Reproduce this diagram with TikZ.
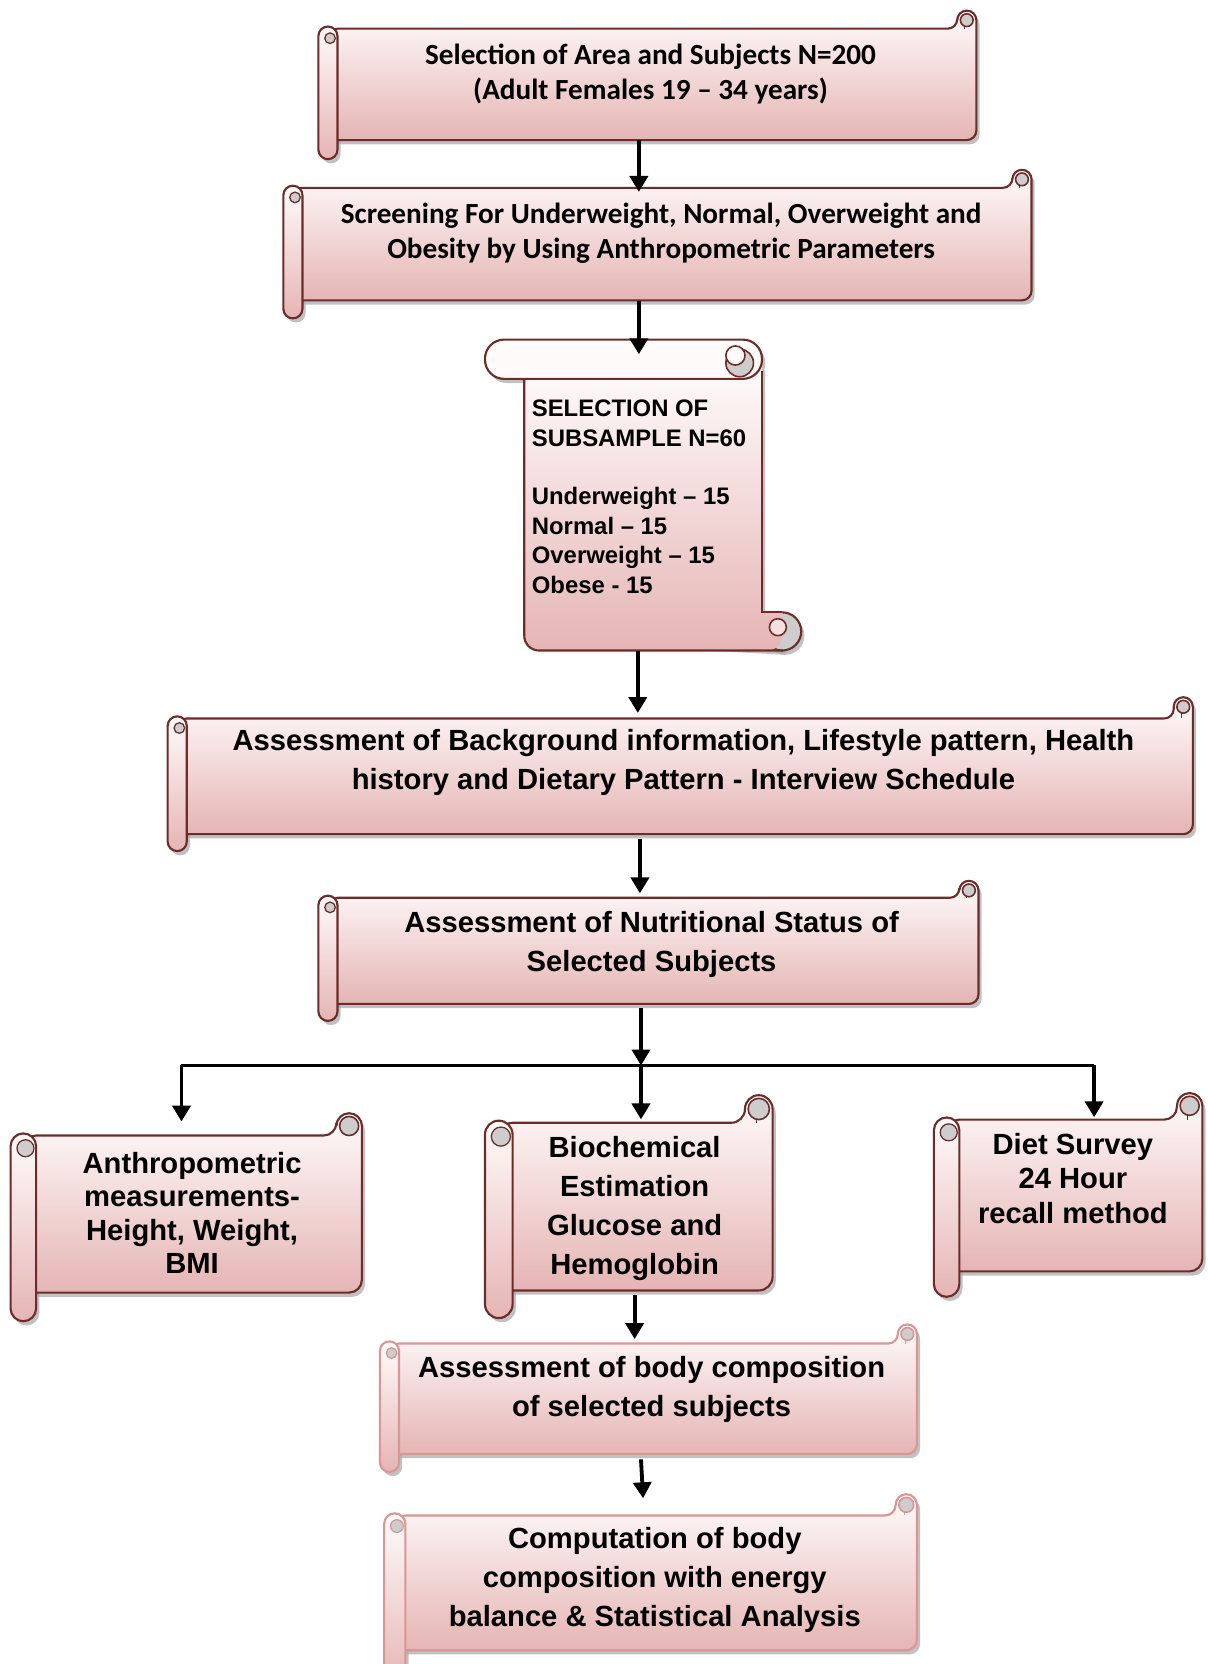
\documentclass[tikz,border=0pt]{standalone}
\usepackage{fontspec}
\setmainfont{Liberation Sans}
\newfontfamily\calfont{Carlito}
\usetikzlibrary{arrows.meta,calc}
\definecolor{outl}{HTML}{6B2C2A}
\definecolor{outlb}{HTML}{D99694}
\definecolor{stop}{HTML}{FFFBFB}
\definecolor{sbot}{HTML}{E5B5B4}
\definecolor{cgray}{HTML}{CDCDCD}
\definecolor{shad}{HTML}{A8A8A8}
\tikzset{
  scrollfill/.style={top color=stop, bottom color=sbot, line width=2pt},
  shadowc/.style={fill=shad, opacity=0.7},
  arr/.style={line width=3.6pt, -{Triangle[width=17pt,length=15pt]}},
  conn/.style={line width=3.2pt},
  lbl/.style={font=\bfseries\fontsize{27.5}{37}\selectfont, align=center, inner sep=0pt},
  bodynode/.style={inner sep=0pt, draw=none}
}
% #1 name, #2 L, #3 T, #4 R, #5 B, #6 curl top, #7 roll bottom, #8 roll width, #9 outline colour
\newcommand\hscroll[9]{%
  \pgfmathsetmacro\qL{#2}\pgfmathsetmacro\qT{#3}\pgfmathsetmacro\qR{#4}\pgfmathsetmacro\qB{#5}%
  \pgfmathsetmacro\qC{#6}\pgfmathsetmacro\qD{#7}\pgfmathsetmacro\qw{#8}\pgfmathsetmacro\qh{#8/2}%
  \pgfmathsetmacro\qLh{#2+#8/2}\pgfmathsetmacro\qLw{#2+#8}%
  \pgfmathsetmacro\qRw{#4-#8}\pgfmathsetmacro\qRh{#4-#8/2}%
  \pgfmathsetmacro\qW{#4-#2}\pgfmathsetmacro\qH{#5-#3}%
  \pgfmathsetmacro\qX{(#2+#4)/2}\pgfmathsetmacro\qY{(#3+#5)/2}%
  \begin{scope}[shift={(3,4)}]
    \fill[shadowc, rounded corners=\qh pt] (\qLh,\qT) -- (\qRw,\qT) -- (\qRw,\qC) -- (\qR,\qC) -- (\qR,\qB) -- (\qLh,\qB) -- cycle;
    \fill[shadowc, rounded corners=\qh pt] (\qL,\qT) rectangle (\qLw,\qD);
  \end{scope}
  \path[scrollfill, draw=#9, rounded corners=\qh pt] (\qLh,\qT) -- (\qRw,\qT) -- (\qRw,\qC) -- (\qR,\qC) -- (\qR,\qB) -- (\qLh,\qB) -- cycle;
  \filldraw[fill=cgray, draw=#9, line width=1.5pt] (\qRh,{\qC+\qh}) circle ({\qh-3});
  \draw[#9, line width=1.2pt] ({\qRh-2},{\qC+\qw-3}) -- ({\qRh-2},\qT);
  \path[scrollfill, draw=#9, rounded corners=\qh pt] (\qL,{\qT-2}) rectangle (\qLw,\qD);
  \filldraw[fill=cgray, draw=#9, line width=1.2pt] ({\qLh+2},{\qT+\qh}) circle ({\qh-4});
  \node[bodynode, minimum width=\qW pt, minimum height=\qH pt] (#1) at (\qX,\qY) {};
}
\begin{document}
\begin{tikzpicture}[x=1pt,y=-1pt]
\useasboundingbox[fill=white] (0,0) rectangle (1138,1568);

\hscroll{b1}{300}{27}{920}{132}{10}{150}{18}{outl}
\hscroll{b2}{267}{177}{972}{283}{160}{300}{18}{outl}
\hscroll{b4}{158}{677}{1124}{786}{657}{802}{18}{outl}
\hscroll{b5}{300}{846}{922}{946}{830}{962}{18}{outl}
\hscroll{b6}{10}{1070}{341}{1218}{1049}{1245}{24}{outl}
\hscroll{b7}{457}{1058}{728}{1216}{1032}{1242}{26}{outl}
\hscroll{b8}{880}{1055}{1133}{1198}{1030}{1222}{24}{outl}
\hscroll{b9}{358}{1266}{864}{1370}{1248}{1387}{18}{outlb}
\hscroll{b10}{362}{1428}{864}{1555}{1408}{1590}{20}{outlb}

% vertical scroll (box 3)
\begin{scope}[shift={(3,4)}]
  \fill[shadowc] (494,345) -- (494,600) -- (737,613) -- (737,577) -- (718,577) -- (718,345) -- cycle;
  \fill[shadowc] (737,595) circle (18);
  \fill[shadowc, rounded corners=18pt] (457,320) rectangle (718,357);
\end{scope}
\filldraw[fill=cgray, draw=outl, line width=2pt] (737,595) circle (18);
\path[top color=stop, bottom color=sbot] (494,345) [rounded corners=14pt] -- (494,613) -- (737,613) [sharp corners] -- (737,577) -- (718,577) -- (718,345) -- cycle;
\draw[outl, line width=2pt] (718,350) -- (718,577) -- (737,577);
\draw[outl, line width=2pt, rounded corners=14pt] (494,350) -- (494,613) -- (738,613);
\filldraw[fill=stop!60!sbot, draw=outl, line width=1.5pt] (733,591) circle (8);
\path[fill=stop, draw=outl, line width=2pt, rounded corners=18pt] (457,320) rectangle (718,357);
\filldraw[fill=cgray, draw=outl, line width=1.5pt] (697,342) circle (13);
\filldraw[fill=stop, draw=outl, line width=1.5pt] (693,335) circle (9);
\node[bodynode, minimum width=261pt, minimum height=293pt] (b3) at (587.5,466.5) {};

% texts
\node[lbl, font=\calfont\bfseries\fontsize{27.5}{33}\selectfont] (t1) at (613,70) {Selection of Area and Subjects N=200\\(Adult Females 19 – 34 years)};
\node[lbl, font=\calfont\bfseries\fontsize{27.5}{33}\selectfont] (t2) at (623,220) {Screening For Underweight, Normal, Overweight and\\Obesity by Using Anthropometric Parameters};
\node[lbl, align=left, anchor=north west, font=\bfseries\fontsize{22.5}{28}\selectfont] (t3) at (501,377) {SELECTION OF\\SUBSAMPLE N=60\\[26.5pt]Underweight – 15\\Normal – 15\\Overweight – 15\\Obese - 15};
\node[lbl] (t4) at (644,718.5) {Assessment of Background information, Lifestyle pattern, Health\\history and Dietary Pattern - Interview Schedule};
\node[lbl] (t5) at (614,890) {Assessment of Nutritional Status of\\Selected Subjects};
\node[lbl, font=\bfseries\fontsize{27.5}{31.5}\selectfont] (t6) at (181,1143) {Anthropometric\\measurements-\\Height, Weight,\\BMI};
\node[lbl, font=\bfseries\fontsize{27.5}{36.7}\selectfont] (t7) at (598,1138.5) {Biochemical\\Estimation\\Glucose and\\Hemoglobin};
\node[lbl, font=\bfseries\fontsize{27.5}{32.5}\selectfont] (t8) at (1011,1110.5) {Diet Survey\\24 Hour\\recall method};
\node[lbl] (t9) at (614,1309) {Assessment of body composition\\of selected subjects};
\node[lbl, font=\bfseries\fontsize{27.5}{36.5}\selectfont] (t10) at (617,1489) {Computation of body\\composition with energy\\balance \& Statistical Analysis};

% connectors
\coordinate (j) at (604,1004);
\coordinate (jl) at (171,1004);
\coordinate (jr) at (1031,1004);
\draw[arr] ($(b1.south)+(-8,0)$) -- ($(b1.south |- b2.north)+(-8,4)$);
\draw[arr] ($(b3.north |- b2.south)+(14.5,0)$) -- ($(b3.north)+(14.5,14)$);
\draw[arr] ($(b3.south)+(13.5,0)$) -- ($(b3.south |- b4.north)+(13.5,-5)$);
\draw[arr] ($(b4.south)+(-38,4)$) -- ($(b4.south |- b5.north)+(-38,-4)$);
\draw[arr] ($(j |- b5.south)+(0,4)$) -- (j);
\draw[conn] (jl) -- (jr);
\draw[arr] (jl) -- ($(jl |- b6.north)+(0,-13)$);
\draw[arr] (j) -- ($(j |- b7.north)+(0,-3)$);
\draw[arr] (jr) -- ($(jr |- b8.north)+(0,-2)$);
\draw[arr] ($(b7.south)+(5.5,4)$) -- ($(b7.south |- b9.north)+(5.5,-4)$);
\draw[arr] ($(b9.south)+(-7,5)$) -- ($(b10.north)+(-7,-16)$);
\end{tikzpicture}
\end{document}
